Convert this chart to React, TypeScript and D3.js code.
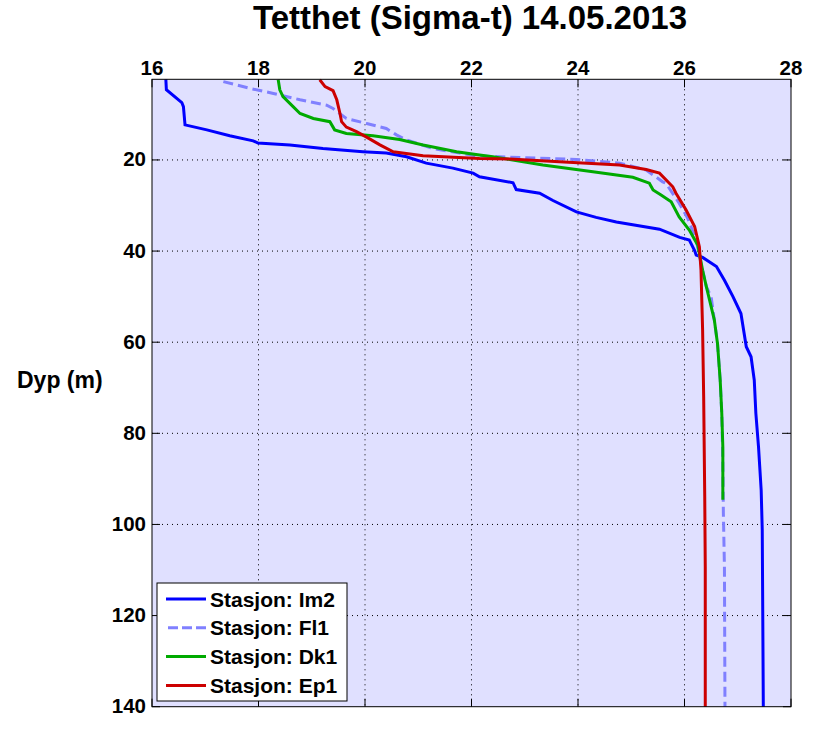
import React from "react";
import * as d3 from "d3";

const title = "Tetthet (Sigma-t) 14.05.2013";
const yLabel = "Dyp (m)";
const xTicks = [16, 18, 20, 22, 24, 26, 28];
const yTicks = [20, 40, 60, 80, 100, 120, 140];

const lm2Depth = [2.3, 4.6, 7.4, 8.3, 12.3, 13.4, 14.7, 15.8, 16.3, 16.7, 17.5, 18.2, 18.5, 19.3, 20.7, 21.8, 22.9, 23.7, 25, 26.5, 27.3, 28.9, 31.4, 32.6, 33.6, 35.2, 37, 37.6, 39.9, 40.9, 41.4, 43.4, 46.4, 50, 53.7, 61, 63.2, 68.3, 75.6, 83, 92.5, 101.2, 120.3, 140];
const lm2Value = [16.26, 16.27, 16.56, 16.59, 16.62, 17.03, 17.46, 17.9, 17.99, 18.59, 19.21, 19.96, 20.4, 20.78, 21.15, 21.65, 22.03, 22.15, 22.78, 22.84, 23.28, 23.53, 23.97, 24.34, 24.72, 25.53, 25.91, 26.09, 26.19, 26.22, 26.34, 26.6, 26.75, 26.91, 27.06, 27.16, 27.25, 27.31, 27.34, 27.39, 27.44, 27.46, 27.47, 27.48];

const fl1Depth = [2.8, 4.3, 5.4, 6.8, 8, 8.7, 10.9, 12, 13.1, 14.5, 15.6, 17.5, 18.5, 19.1, 19.3, 19.9, 20.7, 22.2, 24.8, 25.1, 29.5, 32.8, 37.6, 42.7, 47.8, 50, 60.3, 68.3, 75.6, 86.6, 97.6, 109.3, 140];
const fl1Value = [17.34, 17.84, 18.28, 18.78, 19.28, 19.4, 19.65, 20.03, 20.4, 20.59, 20.78, 21.28, 21.78, 22.09, 22.53, 23.97, 24.78, 25.28, 25.59, 25.65, 25.9, 26.06, 26.22, 26.31, 26.41, 26.5, 26.62, 26.67, 26.7, 26.72, 26.73, 26.75, 26.76];

const dk1Depth = [2.4, 4.6, 6.1, 8.3, 9.8, 10.9, 11.6, 13.4, 14.2, 14.7, 15.5, 16.7, 18.2, 18.9, 19.3, 21.1, 22.6, 23.8, 25.1, 26.6, 27.7, 29.2, 32.5, 35.4, 38.7, 44.2, 47.8, 50.7, 55.1, 60.3, 68.3, 75.6, 83, 94.6];
const dk1Value = [18.37, 18.4, 18.46, 18.65, 18.78, 19.03, 19.34, 19.43, 19.65, 20.15, 20.65, 21.09, 21.72, 22.15, 22.4, 23.34, 24.28, 25.03, 25.34, 25.41, 25.56, 25.75, 25.9, 26.09, 26.25, 26.34, 26.41, 26.47, 26.56, 26.62, 26.67, 26.7, 26.72, 26.72];

const ep1Depth = [2.4, 3.9, 4.8, 6.8, 9.8, 11.6, 12.8, 13.8, 15, 16.7, 18.2, 19.1, 19.7, 19.8, 20.4, 21.1, 22.1, 22.9, 25.9, 27.3, 31, 34.6, 39.1, 44.2, 57.3, 72, 93.9, 109.3, 140];
const ep1Value = [19.15, 19.25, 19.4, 19.47, 19.53, 19.56, 19.65, 19.84, 20.03, 20.28, 20.53, 21.09, 22.15, 22.72, 23.65, 24.78, 25.28, 25.53, 25.78, 25.84, 26.03, 26.19, 26.28, 26.31, 26.34, 26.36, 26.38, 26.39, 26.39];

const seriesNames = ["Stasjon: Im2", "Stasjon: Fl1", "Stasjon: Dk1", "Stasjon: Ep1"];
const seriesColors = ["#0000FF", "#8080FF", "#00AA00", "#CC0000"];
const seriesDash = ["", "10,5", "", ""];
const seriesDepths = [lm2Depth, fl1Depth, dk1Depth, ep1Depth];
const seriesValues = [lm2Value, fl1Value, dk1Value, ep1Value];

const W = 828, H = 731;
const L = 152, R = 791, T = 79.3, B = 706.7;
const FONT = "'Liberation Sans', Arial, Helvetica, sans-serif";

export default function App() {
  const x = d3.scaleLinear().domain([16, 28]).range([L, R]);
  const y = d3.scaleLinear().domain([2.3, 140]).range([T, B]);
  const line = d3.line<[number, number]>().x(d => x(d[0])).y(d => y(d[1]));

  const legX = 157, legY = 583, legW = 190, legH = 118;
  const rowY = (i: number) => 599 + i * 28.8;

  return (
    <svg width={W} height={H} style={{ position: "absolute", left: 0, top: 0, background: "#fff" }} fontFamily={FONT}>
      <rect x={L} y={T} width={R - L} height={B - T} fill="#E0E0FF" />
      {/* grid */}
      {xTicks.filter(t => t > 16 && t < 28).map(t => (
        <line key={"gx" + t} x1={x(t)} x2={x(t)} y1={T} y2={B} stroke="#000" strokeWidth={1} strokeDasharray="1,4" />
      ))}
      {yTicks.filter(t => t < 140).map(t => (
        <line key={"gy" + t} x1={L} x2={R} y1={y(t)} y2={y(t)} stroke="#000" strokeWidth={1} strokeDasharray="1,4" />
      ))}
      {/* ticks */}
      {xTicks.map(t => (
        <g key={"tx" + t}>
          <line x1={x(t)} x2={x(t)} y1={T} y2={T + 8} stroke="#000" />
          <line x1={x(t)} x2={x(t)} y1={B} y2={B - 8} stroke="#000" />
          <text x={x(t)} y={75} textAnchor="middle" fontSize={20.5} fontWeight="bold">{t}</text>
        </g>
      ))}
      {yTicks.map(t => (
        <g key={"ty" + t}>
          <line x1={L} x2={L + 8} y1={y(t)} y2={y(t)} stroke="#000" />
          <line x1={R} x2={R - 8} y1={y(t)} y2={y(t)} stroke="#000" />
          <text x={146} y={y(t) + 6.5} textAnchor="end" fontSize={20.5} fontWeight="bold">{t}</text>
        </g>
      ))}
      {/* series */}
      {seriesNames.map((n, i) => (
        <path key={n} d={line(seriesValues[i].map((v, j) => [v, seriesDepths[i][j]] as [number, number])) || ""}
          fill="none" stroke={seriesColors[i]} strokeWidth={3} strokeDasharray={seriesDash[i] || undefined} />
      ))}
      <rect x={L} y={T} width={R - L} height={B - T} fill="none" stroke="#000" strokeWidth={1} />
      {/* title & labels */}
      <text x={470} y={28.5} textAnchor="middle" fontSize={33} fontWeight="bold">{title}</text>
      <text x={17} y={388} fontSize={23} fontWeight="bold">{yLabel}</text>
      {/* legend */}
      <rect x={legX} y={legY} width={legW} height={legH} fill="#fff" stroke="#000" strokeWidth={1} />
      {seriesNames.map((n, i) => (
        <g key={"lg" + n}>
          <line x1={166} x2={206} y1={rowY(i)} y2={rowY(i)} stroke={seriesColors[i]} strokeWidth={3}
            strokeDasharray={seriesDash[i] ? "10,4" : undefined} strokeDashoffset={seriesDash[i] ? -2 : 0} />
          <text x={210} y={rowY(i) + 7.5} fontSize={21} fontWeight="bold">{n}</text>
        </g>
      ))}
    </svg>
  );
}
